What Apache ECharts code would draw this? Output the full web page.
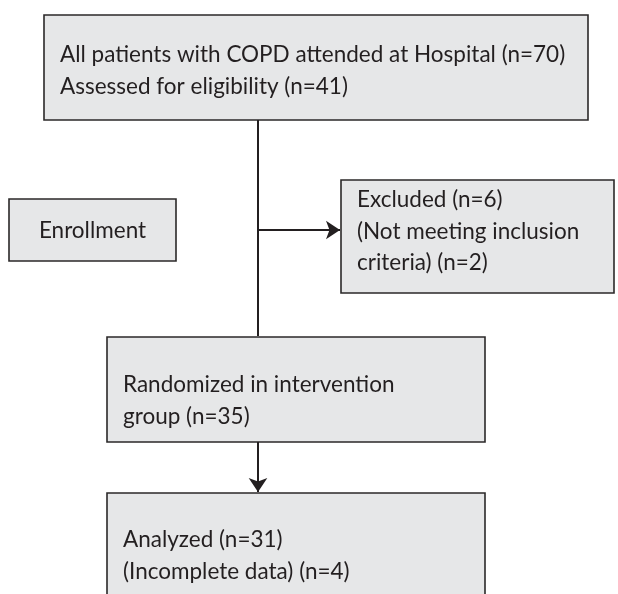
<!DOCTYPE html>
<html>
<head>
<meta charset="utf-8">
<script src="https://cdn.jsdelivr.net/npm/echarts@6/dist/echarts.min.js"></script>
<style>
html, body { margin: 0; padding: 0; background: #fff; }
#chart { width: 618px; height: 594px; }
</style>
</head>
<body>
<div id="chart"></div>
<script>
/*Flow diagram init*/
"use strict";

// box texts (one entry per box, lines inside)
var boxNames = ['screened', 'enrollment', 'excluded', 'randomized', 'analyzed'];
var boxLines = [
	['All patients with COPD attended at Hospital (n=70)', 'Assessed for eligibility (n=41)'],
	['Enrollment'],
	['Excluded (n=6)', '(Not meeting inclusion', 'criteria) (n=2)'],
	['Randomized in intervention', 'group (n=35)'],
	['Analyzed (n=31)', '(Incomplete data) (n=4)']
];
// connectors: from box -> to box, and if it ends in an arrow
var linkFrom = ['screened', 'screened', 'randomized'];
var linkTo = ['randomized', 'excluded', 'analyzed'];
var linkArrow = [false, true, true];

/*****Layout (pixel frame of the page)*****/
var layout = {
	screened:   { x0: 44,  y0: 15,  x1: 588, y1: 120, align: 'left',   textY: 55 },
	enrollment: { x0: 9,   y0: 199, x1: 176, y1: 261, align: 'center', textY: 231 },
	excluded:   { x0: 341, y0: 180, x1: 614, y1: 293, align: 'left',   textY: 200 },
	randomized: { x0: 107, y0: 337, x1: 485, y1: 442, align: 'left',   textY: 385 },
	analyzed:   { x0: 107, y0: 493, x1: 485, y1: 602, align: 'left',   textY: 540 }
};
var trunkX = 258;
var branchY = 230;
var textPad = 16;
var lineH = 31.5;

var boxData = boxNames.map(function (n, i) {
	var b = layout[n];
	return [b.x0, b.y0, b.x1, b.y1, i];
});

function linkCoords(i) {
	var a = layout[linkFrom[i]], b = layout[linkTo[i]];
	if (b.x0 > trunkX) {
		return [[trunkX, branchY], [b.x0 - 1, branchY]];
	}
	return [[trunkX, a.y1], [trunkX, b.y0 - 1]];
}
var plainLinks = [], arrowLinks = [];
for (var i = 0; i < linkFrom.length; i++) {
	(linkArrow[i] ? arrowLinks : plainLinks).push({ coords: linkCoords(i) });
}

var chart = echarts.init(document.getElementById('chart'), null, { renderer: 'canvas' });
var option = {
	animation: false,
	backgroundColor: '#ffffff',
	grid: { left: 0, right: 0, top: 0, bottom: 0 },
	xAxis: { type: 'value', min: 0, max: 618, show: false },
	yAxis: { type: 'value', min: 0, max: 594, inverse: true, show: false },
	series: [
		{
			type: 'custom',
			coordinateSystem: 'cartesian2d',
			clip: false,
			data: boxData,
			renderItem: function (params, api) {
				var p0 = api.coord([api.value(0), api.value(1)]);
				var p1 = api.coord([api.value(2), api.value(3)]);
				var idx = api.value(4);
				var b = layout[boxNames[idx]];
				var lines = boxLines[idx];
				var w = p1[0] - p0[0], h = p1[1] - p0[1];
				var tx = b.align === 'center' ? p0[0] + w / 2 : p0[0] + textPad;
				var startY = api.coord([0, b.textY])[1];
				var children = [{
					type: 'rect',
					shape: { x: p0[0], y: p0[1], width: w, height: h },
					style: { fill: '#e6e7e8', stroke: '#2b2828', lineWidth: 1.6 }
				}];
				lines.forEach(function (t, k) {
					children.push({
						type: 'text',
						style: {
							x: tx,
							y: startY + k * lineH,
							text: t,
							fill: '#231f20',
							font: '22.5px Lato, sans-serif',
							textAlign: b.align,
							textVerticalAlign: 'middle'
						}
					});
				});
				return { type: 'group', children: children };
			}
		},
		{
			type: 'lines',
			coordinateSystem: 'cartesian2d',
			symbol: ['none', 'none'],
			lineStyle: { color: '#231f20', width: 2, opacity: 1 },
			data: plainLinks
		},
		{
			type: 'lines',
			coordinateSystem: 'cartesian2d',
			symbol: ['none', 'arrow'],
			symbolSize: 14,
			lineStyle: { color: '#231f20', width: 2, opacity: 1 },
			itemStyle: { color: '#231f20' },
			data: arrowLinks
		}
	]
};
chart.setOption(option);
</script>
</body>
</html>
